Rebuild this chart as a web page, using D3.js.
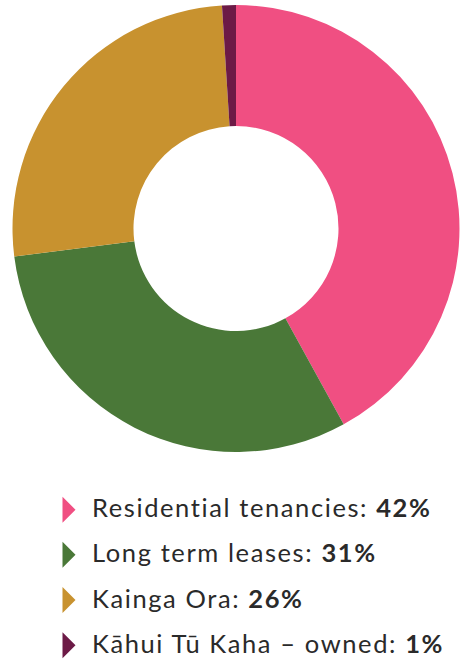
<!DOCTYPE html>
<html>
<head>
<meta charset="utf-8">
<script src="https://cdn.jsdelivr.net/npm/d3@7"></script>
<style>
  html, body { margin: 0; padding: 0; background: #ffffff; }
  svg { display: block; }
</style>
</head>
<body>
<svg id="chart" width="463" height="661"></svg>
<script>
// Housing portfolio breakdown
const categories = ["Residential tenancies", "Long term leases", "Kainga Ora", "Kāhui Tū Kaha – owned"];
const shares = [42, 31, 26, 1];
const valueLabels = ["42%", "31%", "26%", "1%"];
const colors = ["#f04f82", "#4a7838", "#c8922f", "#6c1a46"];

const width = 463, height = 661;
const cx = 236, cy = 228.5;
const outerR = 223.5, innerR = 102.5;

const svg = d3.select("#chart");

const data = categories.map((c, i) => ({ name: c, value: shares[i], label: valueLabels[i], color: colors[i] }));

const pie = d3.pie()
  .value(d => d.value)
  .sort(null)
  .startAngle(0)
  .endAngle(2 * Math.PI);

const arc = d3.arc().innerRadius(innerR).outerRadius(outerR);

svg.append("g")
  .attr("transform", `translate(${cx},${cy})`)
  .selectAll("path")
  .data(pie(data))
  .join("path")
  .attr("d", arc)
  .attr("fill", d => d.data.color);

// Legend
const rowY = d3.scalePoint()
  .domain(categories)
  .range([509.7, 645.2]);

const legend = svg.append("g")
  .selectAll("g")
  .data(data)
  .join("g")
  .attr("transform", d => `translate(0,${rowY(d.name)})`);

legend.append("path")
  .attr("d", "M62.5,-13 L75.5,0 L62.5,13 Z")
  .attr("fill", d => d.color);

const text = legend.append("text")
  .attr("x", 92)
  .attr("y", 7.6)
  .attr("font-family", "Lato, 'Open Sans', sans-serif")
  .attr("font-size", 25.5)
  .attr("letter-spacing", 1.6)
  .attr("fill", "#2a2a2a");

text.append("tspan")
  .text(d => d.name + ": ");
text.append("tspan")
  .attr("font-weight", 700)
  .text(d => d.label);
</script>
</body>
</html>
